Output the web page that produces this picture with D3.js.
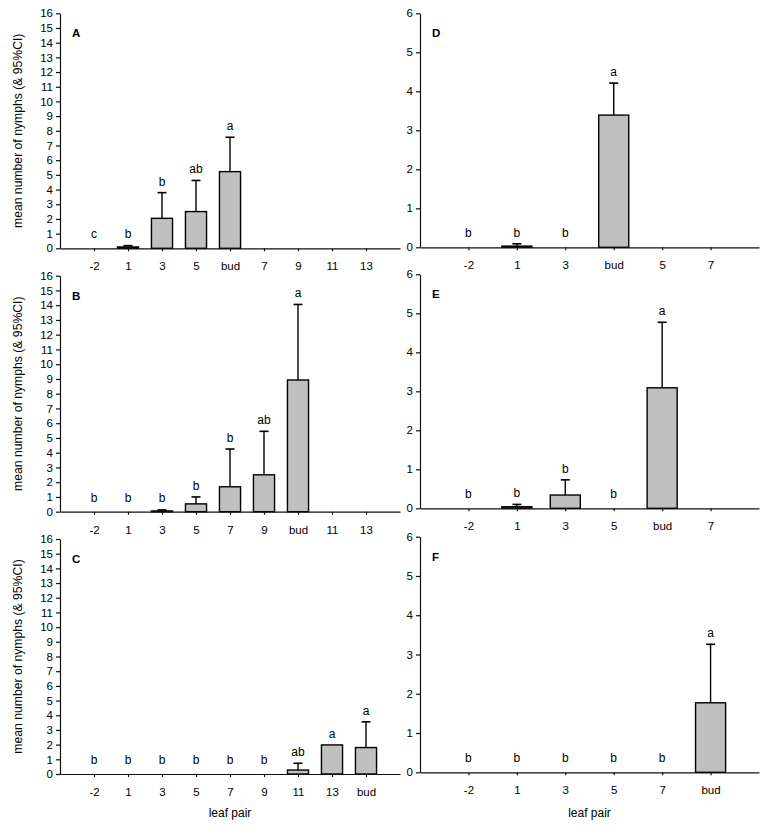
<!DOCTYPE html>
<html>
<head>
<meta charset="utf-8">
<script src="https://cdn.jsdelivr.net/npm/d3@7/dist/d3.min.js"></script>
<style>
  body { margin: 0; background: #fff; }
  svg { font-family: "Liberation Sans", Arial, sans-serif; }
</style>
</head>
<body>
<svg id="chart"></svg>
<script>
// data (null = no bar / no letter)
const catsA = ["-2", "1", "3", "5", "bud", "7", "9", "11", "13"];
const meanA = [0, 0.09, 2.04, 2.5, 5.22, null, null, null, null];
const ciA = [0, 0.18, 3.79, 4.62, 7.56, null, null, null, null];
const lettersA = ["c", "b", "b", "ab", "a", "", "", "", ""];

const catsB = ["-2", "1", "3", "5", "7", "9", "bud", "11", "13"];
const meanB = [0, 0, 0.05, 0.53, 1.69, 2.5, 8.93, null, null];
const ciB = [0, 0, 0.12, 1.0, 4.25, 5.45, 14.05, null, null];
const lettersB = ["b", "b", "b", "b", "b", "ab", "a", "", ""];

const catsC = ["-2", "1", "3", "5", "7", "9", "11", "13", "bud"];
const meanC = [0, 0, 0, 0, 0, 0, 0.27, 1.98, 1.8];
const ciC = [0, 0, 0, 0, 0, 0, 0.73, 1.98, 3.55];
const lettersC = ["b", "b", "b", "b", "b", "b", "ab", "a", "a"];

const catsD = ["-2", "1", "3", "bud", "5", "7"];
const meanD = [0, 0.03, 0, 3.39, null, null];
const ciD = [0, 0.09, 0, 4.21, null, null];
const lettersD = ["b", "b", "b", "a", "", ""];

const catsE = ["-2", "1", "3", "5", "bud", "7"];
const meanE = [0, 0.04, 0.34, 0, 3.09, null];
const ciE = [0, 0.1, 0.73, 0, 4.77, null];
const lettersE = ["b", "b", "b", "b", "a", ""];

const catsF = ["-2", "1", "3", "5", "7", "bud"];
const meanF = [0, 0, 0, 0, 0, 1.77];
const ciF = [0, 0, 0, 0, 0, 3.26];
const lettersF = ["b", "b", "b", "b", "b", "a"];

const w = 767;
const h = 837;
const yTitle = "mean number of nymphs (& 95%CI)";

const svg = d3.select("#chart").attr("width", w).attr("height", h);

const panels = [
  {name: "A", cats: catsA, mean: meanA, ci: ciA, letters: lettersA, yMax: 16, x0: 60, x1: 400, top: 13.3, bottom: 248.3, title: true},
  {name: "B", cats: catsB, mean: meanB, ci: ciB, letters: lettersB, yMax: 16, x0: 60, x1: 400, top: 275.7, bottom: 511.7, title: true},
  {name: "C", cats: catsC, mean: meanC, ci: ciC, letters: lettersC, yMax: 16, x0: 60, x1: 400, top: 539, bottom: 774, title: true, xlab: true},
  {name: "D", cats: catsD, mean: meanD, ci: ciD, letters: lettersD, yMax: 6, x0: 420, x1: 759, top: 13.3, bottom: 247.3},
  {name: "E", cats: catsE, mean: meanE, ci: ciE, letters: lettersE, yMax: 6, x0: 420, x1: 759, top: 274.3, bottom: 508.3},
  {name: "F", cats: catsF, mean: meanF, ci: ciF, letters: lettersF, yMax: 6, x0: 420, x1: 759, top: 536.7, bottom: 772.3, xlab: true}
];

const drawPanel = (p) => {
  const g = svg.append("g");

  const x = d3.scalePoint()
    .domain(p.cats)
    .range([p.x0, p.x1])
    .padding(1);

  const y = d3.scaleLinear()
    .domain([0, p.yMax])
    .range([p.bottom, p.top]);

  const step = x.step();
  const bw = step * 0.62;

  const rows = p.cats.map((c, i) => ({cat: c, mean: p.mean[i], ci: p.ci[i], letter: p.letters[i]}));

  // bars
  g.selectAll("rect.bar")
    .data(rows.filter(d => d.mean !== null && d.mean > 0))
    .enter()
    .append("rect")
    .attr("class", "bar")
    .attr("x", d => x(d.cat) - bw / 2)
    .attr("y", d => y(d.mean))
    .attr("width", bw)
    .attr("height", d => y(0) - y(d.mean))
    .attr("fill", "#c0c0c0")
    .attr("stroke", "#000")
    .attr("stroke-width", 1.4);

  // upper error bars
  const errs = rows.filter(d => d.ci !== null && d.ci > d.mean);
  g.selectAll("line.err")
    .data(errs)
    .enter()
    .append("line")
    .attr("x1", d => x(d.cat))
    .attr("x2", d => x(d.cat))
    .attr("y1", d => y(d.mean))
    .attr("y2", d => y(d.ci))
    .attr("stroke", "#000")
    .attr("stroke-width", 1.4);
  g.selectAll("line.cap")
    .data(errs)
    .enter()
    .append("line")
    .attr("x1", d => x(d.cat) - 4.5)
    .attr("x2", d => x(d.cat) + 4.5)
    .attr("y1", d => y(d.ci))
    .attr("y2", d => y(d.ci))
    .attr("stroke", "#000")
    .attr("stroke-width", 1.6);

  // significance letters
  g.selectAll("text.letter")
    .data(rows.filter(d => d.letter))
    .enter()
    .append("text")
    .attr("x", d => x(d.cat))
    .attr("y", d => Math.min(y(d.ci) - 7, y(0) - 10))
    .attr("text-anchor", "middle")
    .attr("font-size", 12)
    .attr("fill", "#000")
    .text(d => d.letter);

  // axes
  const yAxis = d3.axisLeft(y)
    .tickValues(d3.range(0, p.yMax + 1))
    .tickFormat(d3.format("d"))
    .tickSize(4)
    .tickSizeOuter(0)
    .tickPadding(3);
  const ya = g.append("g")
    .attr("transform", "translate(" + p.x0 + ",0)")
    .call(yAxis);

  const xAxis = d3.axisBottom(x)
    .tickSize(3)
    .tickSizeOuter(0)
    .tickPadding(11);
  const xa = g.append("g")
    .attr("transform", "translate(0," + p.bottom + ")")
    .call(xAxis);

  [ya, xa].forEach(a => {
    a.selectAll("text").attr("font-size", 11.5).attr("fill", "#000")
      .attr("font-family", "Liberation Sans, Arial, sans-serif");
    a.selectAll("path, line").attr("stroke", "#111").attr("stroke-width", 1.2);
  });

  // panel letter
  g.append("text")
    .attr("x", p.x0 + 12)
    .attr("y", p.top + 24)
    .attr("font-size", 11.5)
    .attr("font-weight", "bold")
    .attr("fill", "#000")
    .text(p.name);

  if (p.title) {
    g.append("text")
      .attr("transform", "translate(22," + ((p.top + p.bottom) / 2) + ") rotate(-90)")
      .attr("text-anchor", "middle")
      .attr("font-size", 12.2)
      .attr("fill", "#000")
      .text(yTitle);
  }

  if (p.xlab) {
    g.append("text")
      .attr("x", (p.x0 + p.x1) / 2)
      .attr("y", 817)
      .attr("text-anchor", "middle")
      .attr("font-size", 12)
      .attr("fill", "#000")
      .text("leaf pair");
  }
};

panels.forEach(drawPanel);
</script>
</body>
</html>
